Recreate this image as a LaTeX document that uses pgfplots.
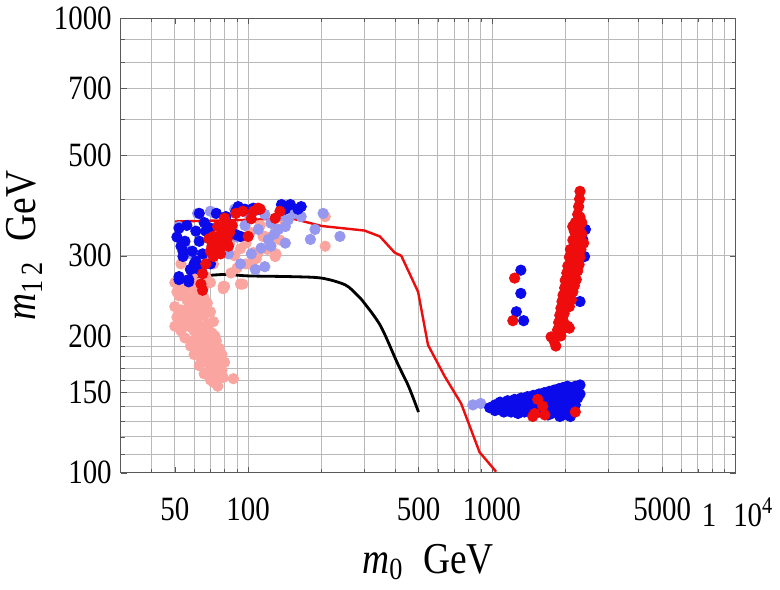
\documentclass[border=0pt]{standalone}
\usepackage{pgfplots}
\pgfplotsset{compat=1.18}
\usepackage{fontspec}
\setmainfont[FakeStretch=0.85]{Liberation Serif}

\definecolor{ptblue}{RGB}{10,10,235}
\definecolor{ptred}{RGB}{238,12,12}
\definecolor{ptlblue}{RGB}{150,152,240}
\definecolor{ptpink}{RGB}{250,165,160}

\begin{document}
\begin{tikzpicture}
\begin{axis}[
  xmode=log, ymode=log,
  width=307pt, height=227pt,
  scale only axis,
  xmin=30, xmax=10000,
  ymin=100, ymax=1000,
  xtick={50,100,500,1000,5000,10000},
  xticklabels={50,100,500,1000,5000,{\hspace{2pt}1\hspace{0.5em}10\textsuperscript{4}}},
  ytick={100,150,200,300,500,700,1000},
  yticklabels={100,150,200,300,500,700,1000},
  minor xtick={40,60,70,80,90,200,300,400,600,700,800,900,2000,3000,4000,6000,7000,8000,9000},
  minor ytick={110,120,130,140,160,170,180,190,400,600,800,900},
  grid=both,
  grid style={draw=gray!55, line width=0.35pt},
  minor grid style={draw=gray!55, line width=0.35pt},
  major tick length=3pt, minor tick length=2pt,
  tick style={gray!70!black},
  axis line style={gray!70!black, line width=0.5pt},
  ticklabel style={font=\fontsize{17}{19}\selectfont},
  xticklabel style={yshift=-9pt},
  yticklabel style={xshift=-1pt},
  xlabel={\textit{m}\textsubscript{0}\hspace{0.45em}GeV},
  ylabel={\textit{m}\textsubscript{1\,2}\hspace{0.45em}GeV},
  label style={font=\fontsize{22}{25}\selectfont},
  xlabel style={inner sep=4.5pt, yshift=-1pt},
  ylabel style={yshift=-1pt},
  /pgf/number format/assume math mode=true,
  clip=true,
]
% pink points
\addplot[only marks, mark=*, mark size=2.6pt, color=ptpink] coordinates {
(50,262)(52,255)(55,265)(58,258)(61,262)(64,250)(52,245)(56,240)(60,245)(63,238)(66,242)
(50,232)(53,228)(57,232)(61,228)(65,230)(68,236)(51,220)(54,215)(58,220)(62,218)(66,222)(70,226)
(50,210)(53,205)(57,210)(60,205)(64,210)(68,212)(72,215)(55,198)(59,195)(63,198)(67,200)(71,203)
(58,190)(62,186)(66,190)(70,192)(74,195)(60,182)(64,178)(68,182)(72,185)(76,188)
(63,172)(67,175)(71,170)(75,178)(78,182)(66,165)(70,168)(74,162)(77,170)(80,175)
(72,158)(76,165)(79,162)(75,155)(87,161)(79,254)(70,160)(65,185)(69,205)(73,200)
(51,250)(55,250)(59,236)(62,252)(66,258)(52,225)(56,222)(60,215)(64,202)(67,208)
(61,192)(65,195)(69,188)(73,190)(68,176)(72,178)(76,172)(73,167)(78,168)(71,164)
(79,257)(95,260)(98,288)(105,305)(115,331)(123,320)(130,345)(130,303)(93,311)(102,338)
(84,320)(72,288)(67,270)(53,288)(54,260)(59,257)(207,366)(207,315)(93,260)(80,257)
(110,305)(129,299)(103,288)(117,331)(142,354)(88,300)(76,310)(112,350)(98,320)
(85,275)(90,282)(108,296)(120,310)(135,325)(60,275)(70,262)
};
% light blue points
\addplot[only marks, mark=*, mark size=2.6pt, color=ptlblue] coordinates {
(62,372)(70,376)(88,380)(100,372)(117,370)(124,354)(133,343)(121,326)(124,315)(117,284)
(107,280)(93,288)(83,303)(142,348)(146,360)(165,366)(180,326)(188,343)(203,372)(238,331)
(52,348)(55,315)(58,303)(69,294)(103,303)(110,343)(73,372)(142,320)(128,335)(113,312)
(97,350)(136,368)(155,372)(90,330)(78,345)
(836,141)(900,142)
};
% blue points
\addplot[only marks, mark=*, mark size=2.6pt, color=ptblue] coordinates {
(52,345)(53,315)(54,299)(52,270)(57,266)(60,288)(58,280)(61,340)(67,340)(63,323)(59,307)
(55,323)(54,307)(65,303)(63,280)(70,288)(93,331)(74,372)(81,366)(89,376)(63,372)
(137,389)(149,389)(160,380)(165,385)(142,380)(110,380)(105,382)(91,385)(97,380)
(89,334)(64,280)(57,263)(52,266)(58,280)(51,330)(56,350)(66,355)(70,345)(61,292)
(1315,279)(1315,248)(1260,226)(1350,216)
(2420,343)(2400,299)(2300,238)(1954,223)(2360,326)
(980,139)(1030,141)(1030,137)(1080,143)(1080,138)(1120,140)(1120,136)(1160,144)(1160,139)
(1200,142)(1200,136)(1240,145)(1240,139)(1280,143)(1280,135)(1320,146)(1320,140)(1360,143)
(1360,136)(1400,147)(1400,141)(1440,144)(1440,137)(1480,148)(1480,142)(1480,135)(1520,145)
(1520,139)(1560,149)(1560,143)(1560,136)(1600,147)(1600,140)(1640,150)(1640,144)(1640,137)
(1680,148)(1680,141)(1720,151)(1720,145)(1720,138)(1760,149)(1760,142)(1760,135)(1800,152)
(1800,146)(1800,139)(1840,150)(1840,143)(1840,136)(1880,153)(1880,147)(1880,140)(1920,151)
(1920,144)(1920,137)(1960,154)(1960,148)(1960,141)(1960,134)(2000,152)(2000,145)(2000,138)
(2040,155)(2040,149)(2040,142)(2040,135)(2080,150)(2080,143)(2080,137)(2120,153)(2120,146)
(2120,139)(2160,151)(2160,144)(2160,137)(2200,155)(2200,148)(2200,141)(2250,154)(2250,146)
(2300,156)(2300,149)(1900,133)(2100,133)(1700,134)
};
% red points
\addplot[only marks, mark=*, mark size=2.6pt, color=ptred] coordinates {
(64,260)(65,274)(67,288)(72,299)(70,307)(74,320)(77,331)(79,340)(81,354)(84,338)(83,315)
(77,303)(72,331)(69,327)(75,348)(80,363)(89,372)(95,376)(103,362)(105,376)(112,380)(100,331)
(65,252)(110,382)(135,376)(129,363)(78,320)(82,327)(76,312)(86,350)(71,315)
(1240,268)(1219,216)
(1543,145)(1500,135)(1472,133)(1618,140)(1650,134)(2200,136)
(2300,416)(2290,400)(2270,385)(2250,370)(2300,365)(2200,355)(2340,355)(2180,340)(2280,345)
(2340,335)(2150,325)(2250,325)(2380,320)(2100,310)(2200,312)(2320,310)(2080,298)(2180,300)
(2300,298)(2050,285)(2150,288)(2280,287)(2030,275)(2120,276)(2250,278)(2000,265)(2100,265)
(2220,266)(1990,255)(2080,256)(2180,258)(1960,246)(2050,247)(2150,250)(1940,238)(2020,240)
(2120,240)(1920,230)(2000,232)(2080,232)(1900,222)(1980,224)(1880,214)(1960,216)(2050,210)
(1860,206)(1950,207)(1830,199)(1920,200)(1750,199)(1800,195)(1830,190)(2080,208)(2147,348)
};
% red boundary
\addplot[ptred, line width=1.2pt] coordinates {
(50,357)(100,360)(150,363)(200,349)(300,341)(347,331)(399,305)(425,300)(498,250)
(547,191)(640,163)(748,142)(890,111)(1041,100.5)
};
% black boundary
\addplot[black, line width=1.4pt, smooth] coordinates {
(50,268)(60,270)(80,273)(100,271)(150,270)(200,268)(250,259)(280,246)(300,236)
(350,210)(410,174)(455,155)(500,136)
};
\end{axis}
\end{tikzpicture}
\end{document}
